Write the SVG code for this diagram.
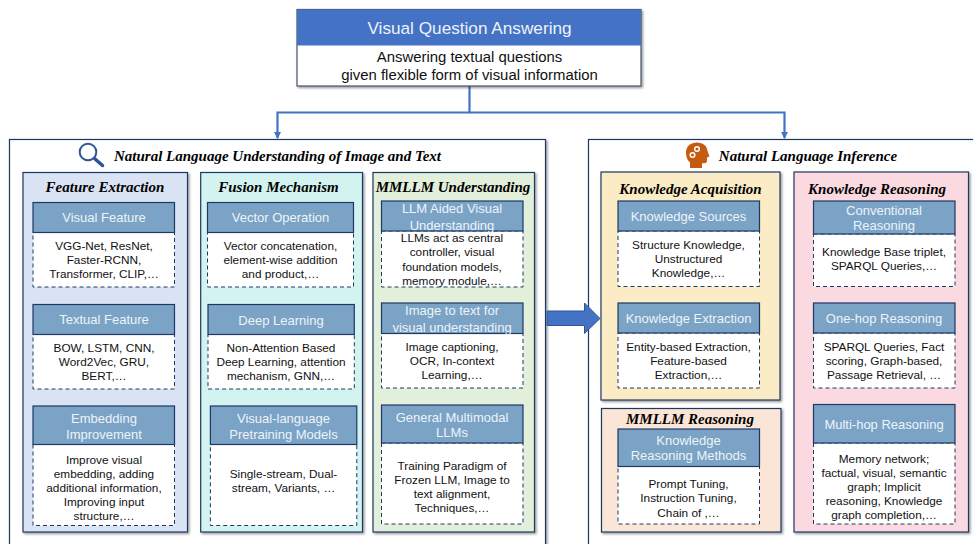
<svg xmlns="http://www.w3.org/2000/svg" width="973" height="544" viewBox="0 0 973 544">
<style>
text{font-family:"Liberation Sans",Arial,sans-serif;text-anchor:middle}
.outer{fill:#fff;stroke:#1f3864;stroke-width:1.2;filter:url(#sh)}
.panel{stroke:#1f3864;stroke-width:1.2;filter:url(#sh)}
.hd{fill:#7aa3c6;stroke:#1f3864;stroke-width:1.2}
.bd{fill:#fff;stroke:#1f3864;stroke-width:1;stroke-dasharray:4 3}
.ht{font-size:13px;fill:#eef3f8}
.bt{font-size:11.8px;fill:#111}
.pt{font-family:"Liberation Serif",serif;font-size:15px;font-weight:bold;font-style:italic;fill:#000}
.conn{fill:none;stroke:#4472c4;stroke-width:2.2}
</style>
<defs>
<filter id="sh" x="-5%" y="-5%" width="110%" height="110%"><feDropShadow dx="1.5" dy="1.5" stdDeviation="1.2" flood-color="#000" flood-opacity=".4"/></filter>
<marker id="ah" markerWidth="8" markerHeight="8" refX="6" refY="3.500" orient="auto" markerUnits="userSpaceOnUse"><path d="M0 0L7 3.500L0 7Z" fill="#4472c4"/></marker>
</defs>

<g id="outer-left"><rect class="outer" x="9.500" y="139.500" width="536" height="420"/>
<g fill="none" stroke="#2f5597"><circle cx="88" cy="152" r="8.300" stroke-width="2"/><path d="M94.500 158.500L102.500 165.500" stroke-width="3.500" stroke-linecap="round"/></g>
<text class="pt" x="277.500" y="161">Natural Language Understanding of Image and Text</text></g>

<g id="outer-right"><rect class="outer" x="588.500" y="139.500" width="420" height="420"/>
<path fill="#c55a11" d="M690 168V162.500C687 160 686 156 686 152.500C686 146 691 142.500 697 142.500C703 142.500 707 146 707.500 151L709.500 156.500L707 157.500V161C707 163 705 163.500 702 163.300V168Z"/>
<g fill="none" stroke="#fff" stroke-width="1.500"><circle cx="697" cy="149" r="2.300"/><circle cx="692.500" cy="155" r="2.300"/></g>
<text class="pt" x="808" y="161">Natural Language Inference</text></g>

<g id="connectors">
<path class="conn" d="M469.500 86V112.500H277.500V138" marker-end="url(#ah)"/>
<path class="conn" d="M469.500 112.500H784.500V138" marker-end="url(#ah)"/>
</g>

<g id="top">
<rect x="297" y="9.500" width="344" height="76.500" fill="#fff" stroke="#44546a" stroke-width="1.200" filter="url(#sh)"/>
<rect x="297" y="9.500" width="344" height="36" fill="#4472c4"/>
<text x="469.500" y="34" style="font-size:17.200px;fill:#eef3fb">Visual Question Answering</text>
<text x="469.500" y="62" style="font-size:14.900px;fill:#111">Answering textual questions</text>
<text x="469.500" y="80" style="font-size:14.900px;fill:#111">given flexible form of visual information</text>
</g>

<g id="big-arrow"><path d="M547 311H584.500V303L600 318.500L584.500 333.500V325.500H547Z" fill="#4472c4" stroke="#2f5597"/></g>

<g id="feature-extraction"><rect class="panel" x="23" y="172.500" width="164.500" height="359.500" fill="#dae3f3"/>
<text class="pt" x="105" y="192">Feature Extraction</text></g>
<g id="fusion-mechanism"><rect class="panel" x="200.700" y="172.500" width="161.800" height="359.500" fill="#d2f3f0"/>
<text class="pt" x="278.500" y="192">Fusion Mechanism</text></g>
<g id="mmllm-understanding"><rect class="panel" x="373" y="172.500" width="161.500" height="359.500" fill="#e2efda"/>
<text class="pt" x="453" y="192">MMLLM Understanding</text></g>
<g id="knowledge-acquisition"><rect class="panel" x="601" y="172" width="179" height="228" fill="#fbecc5"/>
<text class="pt" x="690.500" y="194">Knowledge Acquisition</text></g>
<g id="mmllm-reasoning"><rect class="panel" x="601.500" y="408.500" width="179.500" height="123.500" fill="#fbe5d6"/>
<text class="pt" x="690" y="424">MMLLM Reasoning</text></g>
<g id="knowledge-reasoning"><rect class="panel" x="794" y="172" width="174.500" height="360" fill="#fad9e0"/>
<text class="pt" x="877" y="194">Knowledge Reasoning</text></g>

<g id="visual-feature"><rect class="bd" x="33" y="232.500" width="141.500" height="54.500"/><rect class="hd" x="33" y="202.500" width="141.500" height="30"/>
<text class="ht" x="104" y="222">Visual Feature</text>
<text class="bt" x="104" y="250">VGG-Net, ResNet,</text><text class="bt" x="104" y="264">Faster-RCNN,</text><text class="bt" x="104" y="278">Transformer, CLIP,…</text></g>
<g id="textual-feature"><rect class="bd" x="33" y="334.500" width="141.500" height="54.500"/><rect class="hd" x="33" y="304.500" width="141.500" height="30"/>
<text class="ht" x="104" y="324">Textual Feature</text>
<text class="bt" x="104" y="352">BOW, LSTM, CNN,</text><text class="bt" x="104" y="366">Word2Vec, GRU,</text><text class="bt" x="104" y="380">BERT,…</text></g>
<g id="embedding-improvement"><rect class="bd" x="33" y="444.500" width="141.500" height="81"/><rect class="hd" x="33" y="406" width="141.500" height="38.500"/>
<text class="ht" x="104" y="422.500">Embedding</text><text class="ht" x="104" y="438.500">Improvement</text>
<text class="bt" x="104" y="464">Improve visual</text><text class="bt" x="104" y="478">embedding, adding</text><text class="bt" x="104" y="492">additional information,</text><text class="bt" x="104" y="506">Improving input</text><text class="bt" x="104" y="520">structure,…</text></g>

<g id="vector-operation"><rect class="bd" x="207.500" y="232.500" width="146" height="54.500"/><rect class="hd" x="207.500" y="202.500" width="146" height="30"/>
<text class="ht" x="280.500" y="222">Vector Operation</text>
<text class="bt" x="280.500" y="250">Vector concatenation,</text><text class="bt" x="280.500" y="264">element-wise addition</text><text class="bt" x="280.500" y="278">and product,…</text></g>
<g id="deep-learning"><rect class="bd" x="208" y="334.500" width="146.300" height="54.500"/><rect class="hd" x="208" y="304.500" width="146.300" height="30"/>
<text class="ht" x="281" y="325">Deep Learning</text>
<text class="bt" x="281" y="352">Non-Attention Based</text><text class="bt" x="281" y="366">Deep Learning, attention</text><text class="bt" x="281" y="380">mechanism, GNN,…</text></g>
<g id="visual-language"><rect class="bd" x="210.400" y="444.500" width="146.400" height="81"/><rect class="hd" x="210.400" y="406" width="146.400" height="38.500"/>
<text class="ht" x="283.500" y="422.500">Visual-language</text><text class="ht" x="283.500" y="438.500">Pretraining Models</text>
<text class="bt" x="283.500" y="478">Single-stream, Dual-</text><text class="bt" x="283.500" y="492">stream, Variants, …</text></g>

<g id="llm-aided"><rect class="bd" x="381.500" y="231" width="141.500" height="56"/><rect class="hd" x="381.500" y="201" width="141.500" height="30"/>
<text class="ht" x="452" y="213">LLM Aided Visual</text><text class="ht" x="452" y="229.500">Understanding</text>
<text class="bt" x="452" y="242">LLMs act as central</text><text class="bt" x="452" y="256">controller, visual</text><text class="bt" x="452" y="271">foundation models,</text><text class="bt" x="452" y="285">memory module,…</text></g>
<g id="image-to-text"><rect class="bd" x="381.500" y="333.500" width="141.500" height="54.500"/><rect class="hd" x="381.500" y="303" width="141.500" height="30.500"/>
<text class="ht" x="452" y="315">Image to text for</text><text class="ht" x="452" y="331.500">visual understanding</text>
<text class="bt" x="452" y="351">Image captioning,</text><text class="bt" x="452" y="365">OCR, In-context</text><text class="bt" x="452" y="379">Learning,…</text></g>
<g id="general-multimodal"><rect class="bd" x="381.500" y="443" width="141.500" height="81"/><rect class="hd" x="381.500" y="405" width="141.500" height="38"/>
<text class="ht" x="452" y="421.500">General Multimodal</text><text class="ht" x="452" y="436.500">LLMs</text>
<text class="bt" x="452" y="470">Training Paradigm of</text><text class="bt" x="452" y="484">Frozen LLM, Image to</text><text class="bt" x="452" y="498">text alignment,</text><text class="bt" x="452" y="512">Techniques,…</text></g>

<g id="knowledge-sources"><rect class="bd" x="618" y="231" width="141.500" height="55.500"/><rect class="hd" x="618" y="201" width="141.500" height="30"/>
<text class="ht" x="688.500" y="221">Knowledge Sources</text>
<text class="bt" x="688.500" y="249">Structure Knowledge,</text><text class="bt" x="688.500" y="263">Unstructured</text><text class="bt" x="688.500" y="277">Knowledge,…</text></g>
<g id="knowledge-extraction"><rect class="bd" x="618" y="333" width="141.500" height="55"/><rect class="hd" x="618" y="303" width="141.500" height="30"/>
<text class="ht" x="688.500" y="323">Knowledge Extraction</text>
<text class="bt" x="688.500" y="351">Entity-based Extraction,</text><text class="bt" x="688.500" y="365">Feature-based</text><text class="bt" x="688.500" y="379">Extraction,…</text></g>
<g id="knowledge-reasoning-methods"><rect class="bd" x="618" y="466.500" width="141.500" height="57.500"/><rect class="hd" x="618" y="429" width="141.500" height="37.500"/>
<text class="ht" x="688.500" y="445">Knowledge</text><text class="ht" x="688.500" y="460">Reasoning Methods</text>
<text class="bt" x="688.500" y="488">Prompt Tuning,</text><text class="bt" x="688.500" y="502">Instruction Tuning,</text><text class="bt" x="688.500" y="517">Chain of ,…</text></g>

<g id="conventional-reasoning"><rect class="bd" x="813.500" y="234" width="141.500" height="52.500"/><rect class="hd" x="813.500" y="201" width="141.500" height="33"/>
<text class="ht" x="884" y="215">Conventional</text><text class="ht" x="884" y="230">Reasoning</text>
<text class="bt" x="884" y="256">Knowledge Base triplet,</text><text class="bt" x="884" y="270">SPARQL Queries,…</text></g>
<g id="one-hop"><rect class="bd" x="813.500" y="333" width="141.500" height="55"/><rect class="hd" x="813.500" y="303" width="141.500" height="30"/>
<text class="ht" x="884" y="323">One-hop Reasoning</text>
<text class="bt" x="884" y="351">SPARQL Queries, Fact</text><text class="bt" x="884" y="365">scoring, Graph-based,</text><text class="bt" x="884" y="379">Passage Retrieval, …</text></g>
<g id="multi-hop"><rect class="bd" x="813.500" y="443" width="141.500" height="81"/><rect class="hd" x="813.500" y="404.500" width="141.500" height="38.500"/>
<text class="ht" x="884" y="429">Multi-hop Reasoning</text>
<text class="bt" x="884" y="463">Memory network;</text><text class="bt" x="884" y="477">factual, visual, semantic</text><text class="bt" x="884" y="491">graph; Implicit</text><text class="bt" x="884" y="505">reasoning, Knowledge</text><text class="bt" x="884" y="519">graph completion,…</text></g>
</svg>
